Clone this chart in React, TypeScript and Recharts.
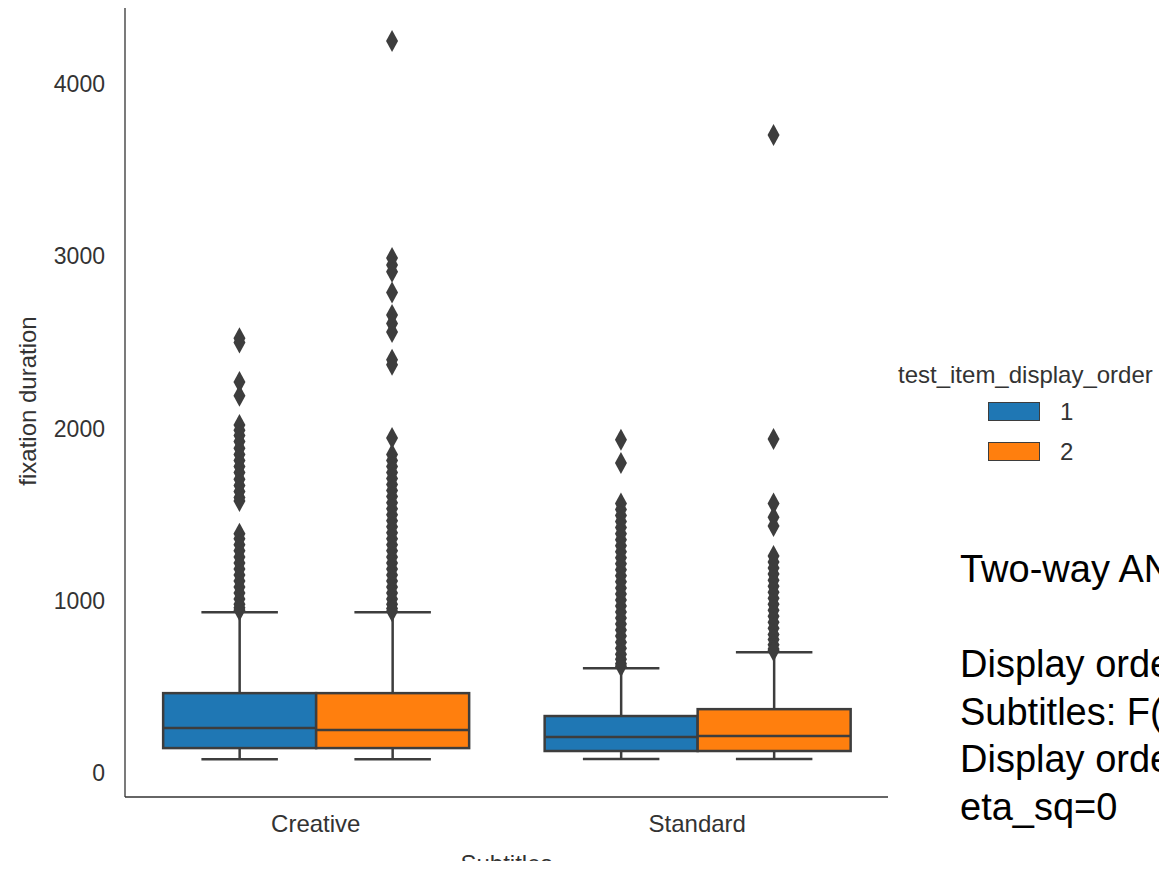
import React from 'react';
import { ComposedChart, Bar, Scatter, XAxis, YAxis, Legend } from 'recharts';

const subtitles = ['Creative', 'Standard'];
const displayOrders = ['1', '2'];
const hueColors = ['#1f77b4', '#ff7f0e'];
const yTicks = [0, 1000, 2000, 3000, 4000];

// box stats, one value per subtitle (Creative, Standard)
const whiskerLow1 = [80, 81];
const q1Order1 = [145, 128];
const median1 = [261, 209];
const q3Order1 = [464, 331];
const whiskerHigh1 = [934, 609];

const whiskerLow2 = [80, 81];
const q1Order2 = [145, 128];
const median2 = [250, 215];
const q3Order2 = [464, 371];
const whiskerHigh2 = [934, 702];

// fliers
const outliersCreative1 = [
  2525, 2500, 2270, 2190, 2020, 1990, 1960, 1925, 1885, 1850, 1815, 1780, 1745,
  1705, 1670, 1635, 1600, 1580, 1390, 1360, 1325, 1290, 1255, 1220, 1185, 1150,
  1115, 1080, 1045, 1010, 980, 960, 945,
];
const outliersCreative2 = [
  4250, 2990, 2950, 2910, 2790, 2660, 2610, 2560, 2400, 2370, 1945, 1850, 1815,
  1780, 1745, 1710, 1675, 1640, 1605, 1570, 1535, 1500, 1465, 1430, 1395, 1360,
  1325, 1290, 1255, 1220, 1185, 1150, 1115, 1080, 1045, 1010, 980, 955, 940,
];
const outliersStandard1 = [
  1935, 1800, 1565, 1530, 1495, 1460, 1425, 1390, 1355, 1320, 1285, 1250, 1215,
  1180, 1145, 1110, 1075, 1040, 1005, 970, 935, 900, 865, 830, 795, 760, 725,
  690, 660, 635, 620,
];
const outliersStandard2 = [
  3705, 1940, 1565, 1485, 1435, 1260, 1225, 1190, 1155, 1120, 1085, 1050, 1015,
  980, 945, 910, 875, 840, 805, 775, 745, 720, 710,
];

const anovaLines = [
  'Two-way ANOVA',
  '',
  'Display order: F(',
  'Subtitles: F(',
  'Display order x Subtitles: F(',
  'eta_sq=0',
];

const EDGE = '#3d3d3d';
const FONT = '"Liberation Sans", Arial, sans-serif';

const boxData = subtitles.map((name, i) => ({
  name,
  range1: [whiskerLow1[i], whiskerHigh1[i]],
  range2: [whiskerLow2[i], whiskerHigh2[i]],
  stats1: { lo: whiskerLow1[i], q1: q1Order1[i], med: median1[i], q3: q3Order1[i], hi: whiskerHigh1[i] },
  stats2: { lo: whiskerLow2[i], q1: q1Order2[i], med: median2[i], q3: q3Order2[i], hi: whiskerHigh2[i] },
}));

// boxes fill 80% of the band, two hues side by side -> centres at +-0.2
const outlierGroups = [
  [outliersCreative1, outliersCreative2],
  [outliersStandard1, outliersStandard2],
];
const outlierData = outlierGroups.flatMap((groups, ci) =>
  groups.flatMap((vals, hi) => vals.map((v) => ({ x: ci + (hi - 0.5) * 0.4, y: v })))
);

const makeBoxShape = (key: 'stats1' | 'stats2') => (props: any) => {
  const { x, y, width, height, payload, fill } = props;
  const s = payload[key];
  // bar spans the whisker range, map other stats through the same scale
  const py = (v: number) => y + (height * (s.hi - v)) / (s.hi - s.lo);
  const cx = x + width / 2;
  const cap = width / 4;
  return (
    <g>
      <line x1={cx} x2={cx} y1={py(s.hi)} y2={py(s.q3)} stroke={EDGE} strokeWidth={2.5} />
      <line x1={cx} x2={cx} y1={py(s.q1)} y2={py(s.lo)} stroke={EDGE} strokeWidth={2.5} />
      <line x1={cx - cap} x2={cx + cap} y1={py(s.hi)} y2={py(s.hi)} stroke={EDGE} strokeWidth={2.5} />
      <line x1={cx - cap} x2={cx + cap} y1={py(s.lo)} y2={py(s.lo)} stroke={EDGE} strokeWidth={2.5} />
      <rect
        x={x}
        y={py(s.q3)}
        width={width}
        height={py(s.q1) - py(s.q3)}
        fill={fill}
        stroke={EDGE}
        strokeWidth={2.5}
      />
      <line x1={x} x2={x + width} y1={py(s.med)} y2={py(s.med)} stroke={EDGE} strokeWidth={2.5} />
    </g>
  );
};

const Diamond = (props: any) => {
  const { cx, cy } = props;
  return (
    <polygon
      points={`${cx},${cy - 11} ${cx + 6},${cy} ${cx},${cy + 11} ${cx - 6},${cy}`}
      fill={EDGE}
    />
  );
};

const renderLegend = (props: any) => {
  const payload = (props.payload || []).filter((p: any) => displayOrders.includes(String(p.value)));
  return (
    <div style={{ position: 'relative', width: 269, height: 110, fontSize: 24, color: '#333', fontFamily: FONT }}>
      <div style={{ position: 'absolute', left: 0, top: 0, lineHeight: '28px', whiteSpace: 'nowrap' }}>
        test_item_display_order
      </div>
      {payload.map((entry: any, i: number) => (
        <div
          key={entry.value}
          style={{ position: 'absolute', left: 90, top: 41 + i * 40, height: 19, display: 'flex', alignItems: 'center' }}
        >
          <span
            style={{
              display: 'inline-block',
              width: 52,
              height: 19,
              background: entry.color,
              border: `1.5px solid ${EDGE}`,
              boxSizing: 'border-box',
            }}
          />
          <span style={{ marginLeft: 20, lineHeight: '19px' }}>{entry.value}</span>
        </div>
      ))}
    </div>
  );
};

export default function App() {
  return (
    <div
      style={{
        position: 'relative',
        width: 1167,
        height: 869,
        margin: -8,
        overflow: 'hidden',
        background: '#fff',
        fontFamily: FONT,
      }}
    >
      <ComposedChart
        width={1167}
        height={869}
        data={boxData}
        margin={{ top: 5, right: 279, bottom: 0, left: 0 }}
        barCategoryGap="10%"
        barGap={0}
      >
        <XAxis
          xAxisId="cat"
          dataKey="name"
          height={72}
          stroke="#333"
          strokeWidth={1.3}
          tickLine={false}
          tickSize={0}
          tickMargin={18}
          tick={{ fontSize: 24, fill: '#333' }}
          label={{ value: 'Subtitles', position: 'insideBottom', offset: -3, style: { fontSize: 24, fill: '#333' } }}
        />
        <XAxis xAxisId="num" dataKey="x" type="number" domain={[-0.5, 1.5]} hide allowDataOverflow />
        <YAxis
          width={125}
          domain={[-139, 4459]}
          ticks={yTicks}
          allowDataOverflow
          stroke="#333"
          strokeWidth={1.3}
          tickLine={false}
          tickSize={0}
          tickMargin={20}
          tick={{ fontSize: 23, fill: '#333' }}
          label={{
            value: 'fixation duration',
            angle: -90,
            position: 'insideLeft',
            offset: 27,
            style: { textAnchor: 'middle', fontSize: 24, fill: '#333' },
          }}
        />
        <Bar
          xAxisId="cat"
          dataKey="range1"
          name={displayOrders[0]}
          fill={hueColors[0]}
          shape={makeBoxShape('stats1')}
          isAnimationActive={false}
        />
        <Bar
          xAxisId="cat"
          dataKey="range2"
          name={displayOrders[1]}
          fill={hueColors[1]}
          shape={makeBoxShape('stats2')}
          isAnimationActive={false}
        />
        <Scatter
          xAxisId="num"
          data={outlierData}
          dataKey="y"
          name="outliers"
          fill={EDGE}
          shape={Diamond}
          legendType="none"
          isAnimationActive={false}
        />
        <Legend
          layout="vertical"
          align="center"
          verticalAlign="middle"
          content={renderLegend}
          wrapperStyle={{ left: 898, top: 361, width: 269, height: 110 }}
        />
      </ComposedChart>
      <div
        style={{
          position: 'absolute',
          left: 960,
          top: 546,
          fontSize: 38,
          lineHeight: '47.5px',
          color: '#000',
          whiteSpace: 'pre',
        }}
      >
        {anovaLines.join('\n')}
      </div>
    </div>
  );
}
